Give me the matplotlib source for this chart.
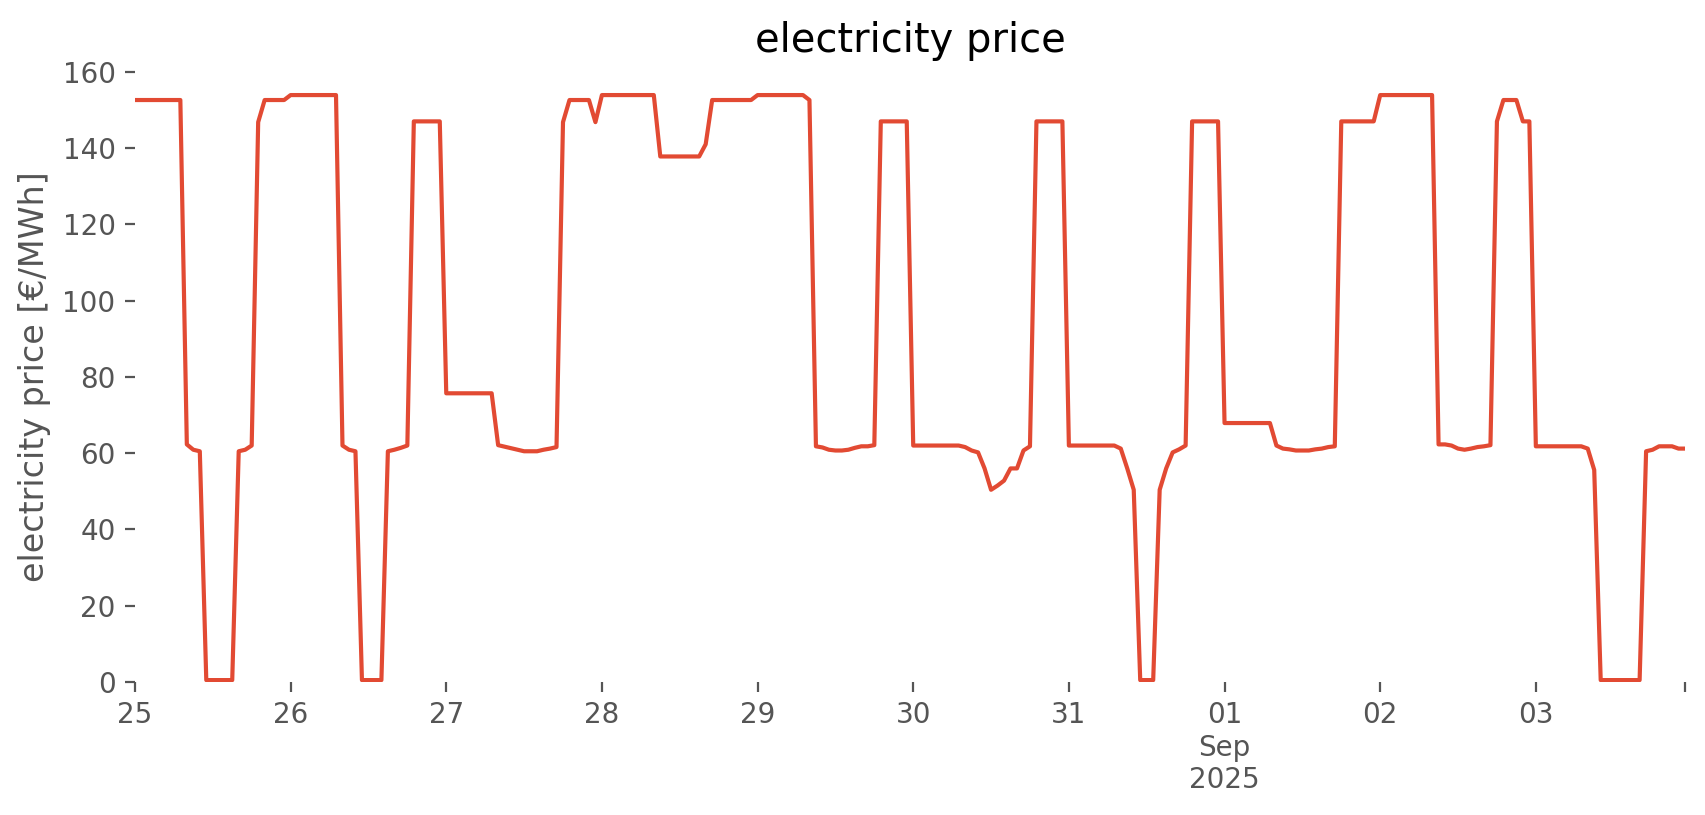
import matplotlib
matplotlib.use("Agg")
import matplotlib.pyplot as plt
import pandas as pd

# hourly electricity price [€/MWh], one list per day
aug25 = [152.6, 152.6, 152.6, 152.6, 152.6, 152.6, 152.6, 152.6, 62.3, 60.9, 60.5, 0.5,
         0.5, 0.5, 0.5, 0.5, 60.5, 60.9, 62.0, 146.8, 152.6, 152.6, 152.6, 152.6]
aug26 = [153.9, 153.9, 153.9, 153.9, 153.9, 153.9, 153.9, 153.9, 62.0, 60.9, 60.5, 0.5,
         0.5, 0.5, 0.5, 60.5, 60.9, 61.4, 62.0, 147.0, 147.0, 147.0, 147.0, 147.0]
aug27 = [75.7, 75.7, 75.7, 75.7, 75.7, 75.7, 75.7, 75.7, 62.1, 61.7, 61.3, 60.9,
         60.5, 60.5, 60.5, 60.9, 61.2, 61.6, 146.8, 152.6, 152.6, 152.6, 152.6, 146.8]
aug28 = [153.9, 153.9, 153.9, 153.9, 153.9, 153.9, 153.9, 153.9, 153.9, 137.8, 137.8, 137.8,
         137.8, 137.8, 137.8, 137.8, 141.0, 152.6, 152.6, 152.6, 152.6, 152.6, 152.6, 152.6]
aug29 = [153.9, 153.9, 153.9, 153.9, 153.9, 153.9, 153.9, 153.9, 152.6, 61.8, 61.5, 60.9,
         60.7, 60.7, 60.9, 61.4, 61.8, 61.8, 62.1, 147.0, 147.0, 147.0, 147.0, 147.0]
aug30 = [62.0, 62.0, 62.0, 62.0, 62.0, 62.0, 62.0, 62.0, 61.6, 60.7, 60.2, 56.0,
         50.4, 51.5, 52.8, 56.0, 56.0, 60.7, 61.8, 147.0, 147.0, 147.0, 147.0, 147.0]
aug31 = [62.0, 62.0, 62.0, 62.0, 62.0, 62.0, 62.0, 62.0, 61.2, 56.0, 50.4, 0.5,
         0.5, 0.5, 50.4, 56.0, 60.2, 61.0, 62.0, 147.0, 147.0, 147.0, 147.0, 147.0]
sep01 = [67.9, 67.9, 67.9, 67.9, 67.9, 67.9, 67.9, 67.9, 62.0, 61.2, 61.0, 60.7,
         60.7, 60.7, 61.0, 61.2, 61.6, 61.8, 147.0, 147.0, 147.0, 147.0, 147.0, 147.0]
sep02 = [153.9, 153.9, 153.9, 153.9, 153.9, 153.9, 153.9, 153.9, 153.9, 62.3, 62.3, 62.0,
         61.2, 60.9, 61.2, 61.6, 61.8, 62.1, 147.0, 152.6, 152.6, 152.6, 147.0, 147.0]
sep03 = [61.8, 61.8, 61.8, 61.8, 61.8, 61.8, 61.8, 61.8, 61.2, 55.6, 0.5, 0.5,
         0.5, 0.5, 0.5, 0.5, 0.5, 60.5, 60.9, 61.8, 61.8, 61.8, 61.2, 61.2]

start = "2025-08-25 00:00"
tick_days = ["2025-08-25", "2025-08-26", "2025-08-27", "2025-08-28", "2025-08-29",
             "2025-08-30", "2025-08-31", "2025-09-01", "2025-09-02", "2025-09-03"]
tick_labels = ["25", "26", "27", "28", "29", "30", "31", "01\nSep\n2025", "02", "03"]

prices = aug25 + aug26 + aug27 + aug28 + aug29 + aug30 + aug31 + sep01 + sep02 + sep03
times = pd.date_range(start, periods=len(prices), freq="h")

grey = "#555555"
fig = plt.figure(figsize=(1706 / 200, 815 / 200), dpi=200)
ax = fig.add_axes([0.0791, 0.1632, 0.9086, 0.7487])
ax.set_facecolor("white")
ax.plot(times, prices, color="#E24A33", linewidth=1.5)

ax.set_xlim(times[0], times[-1])
ax.set_ylim(0, 160)
ax.set_yticks([0, 20, 40, 60, 80, 100, 120, 140, 160])

ticks = list(pd.to_datetime(tick_days)) + [times[-1]]
ax.set_xticks(ticks)
ax.set_xticklabels(tick_labels + [""])

for s in ax.spines.values():
    s.set_visible(False)
ax.grid(False)
ax.tick_params(axis="both", colors=grey, labelsize=10, labelcolor=grey)

ax.set_ylabel("electricity price [€/MWh]", fontsize=12, color=grey)
ax.set_title("electricity price", fontsize=14.4, color="black", pad=7.3)

fig.savefig("out.png", dpi=200, facecolor="white")
